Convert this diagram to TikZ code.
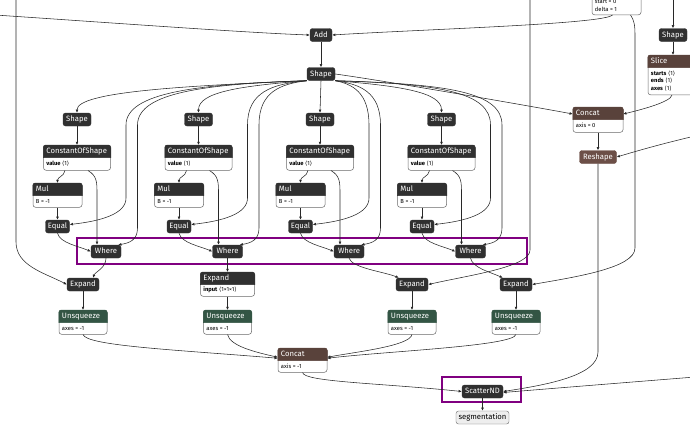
\documentclass[tikz,border=0pt]{standalone}
\usepackage{fontspec}
\setmainfont{Fira Sans}
\newfontfamily\dvs{DejaVu Sans}
\usetikzlibrary{arrows.meta}
\definecolor{nodedark}{RGB}{48,48,48}
\definecolor{brownA}{RGB}{89,66,59}
\definecolor{brownB}{RGB}{108,79,71}
\definecolor{greenU}{RGB}{51,85,68}
\definecolor{edgec}{RGB}{40,40,40}
\definecolor{boxline}{RGB}{105,105,105}
\definecolor{purp}{RGB}{128,0,128}
\definecolor{segfill}{RGB}{238,238,238}
\newcommand\shp[1]{{\dvs ⟨}#1{\dvs ⟩}}
\tikzset{
  op/.style={fill=nodedark, draw=nodedark, line width=0.4pt, rounded corners=2.5pt, text=white,
    font=\fontsize{7.7}{8}\selectfont, minimum height=13pt, inner xsep=2pt, inner ysep=0pt,
    text height=5.7pt, text depth=1.5pt},
  htext/.style={text=white, font=\fontsize{7.7}{8}\selectfont, inner sep=0pt, text height=5.7pt, text depth=1.5pt},
  btext/.style={text=black, font=\fontsize{5.8}{8}\selectfont, inner sep=0pt, align=left},
  conn/.style={draw=edgec, line width=0.55pt, -{Latex[length=3.2pt,width=2.8pt]}},
  hilite/.style={draw=purp, line width=1.4pt},
}
% #1 name, #2 cx, #3 top, #4 width, #5 body height, #6 header colour, #7 title, #8 body
\newcommand\abox[8]{%
  \node[draw=boxline, line width=0.5pt, fill=white, rounded corners=2.5pt, inner sep=0pt,
    minimum width=#4pt, minimum height={12.5pt+#5pt}, anchor=north] (#1) at (#2,#3) {};
  \filldraw[fill=#6, draw=#6, line width=0.5pt] ([yshift=-12.5pt]#1.north west) [rounded corners=2.5pt]
    -- (#1.north west) -- (#1.north east) [sharp corners] -- ([yshift=-12.5pt]#1.north east) -- cycle;
  \node[htext, anchor=west] at ([xshift=3pt,yshift=-6.6pt]#1.north west) {#7};
  \node[btext, anchor=west] at ([xshift=3pt,yshift={-12.5pt-#5pt/2}]#1.north west) {#8};
}
\begin{document}
\begin{tikzpicture}[x=1pt,y=-1pt]
\useasboundingbox (0,0) rectangle (690,429);
\clip (0,0) rectangle (690,429);

% ---------- top ----------
\node[op, minimum width=22pt] (add) at (321,35) {Add};
\node[op, minimum width=28pt] (ms) at (321,74) {Shape};
\node[draw=boxline, line width=0.5pt, fill=white, rounded corners=2.5pt, inner sep=0pt,
  minimum width=49pt, minimum height=60pt, anchor=south] (range) at (616.5,15) {};
\node[btext, anchor=west] (rs) at ([xshift=3pt,yshift=13pt]range.south west) {start = 0};
\node[btext, anchor=west] (rd) at ([xshift=3pt,yshift=5.5pt]range.south west) {delta = 1};

\coordinate (inL) at (-5,15);
\coordinate (topA) at (16,-5);
\coordinate (topB) at (530,-5);
\coordinate (topC) at (673,-5);
\coordinate (inR1) at (695,136);
\coordinate (inR2) at (695,377);

% ---------- right side ----------
\node[op, minimum width=28pt] (rshape) at (673,35) {Shape};
\abox{slice}{675}{55}{54}{27}{brownA}{Slice}{\textbf{starts} \shp{1}\\[-0.5pt]\textbf{ends} \shp{1}\\[-0.5pt]\textbf{axes} \shp{1}}
\abox{concatR}{598}{107}{50}{12.5}{brownA}{Concat}{axis = 0}
\node[op, fill=brownB, draw=brownB, minimum width=37pt] (reshape) at (598,157) {Reshape};

% ---------- columns ----------
\foreach \k in {1,2,3,4} {
  \pgfmathsetmacro\dx{(\k-1)*121.5}
  \node[op, minimum width=28pt] (shp\k) at (77+\dx,119.5) {Shape};
  \abox{cos\k}{77+\dx}{145}{67}{12.5}{nodedark}{ConstantOfShape}{\textbf{value} \shp{1}}
  \abox{mul\k}{57.5+\dx}{183}{49}{11.5}{nodedark}{Mul}{B = -1}
  \node[op, minimum width=24pt] (eq\k) at (57.5+\dx,226.5) {Equal};
  \node[op, minimum width=30pt] (where\k) at (106+\dx,251.5) {Where};
}

\node[op, minimum width=32pt] (exp1) at (83,284.5) {Expand};
\abox{exp2}{227.5}{272}{54}{11.5}{nodedark}{Expand}{\textbf{input} \shp{1×1×1}}
\node[op, minimum width=32pt] (exp3) at (412,284.5) {Expand};
\node[op, minimum width=32pt] (exp4) at (516,284.5) {Expand};

\abox{unsq1}{83}{310}{48}{11.5}{greenU}{Unsqueeze}{axes = -1}
\abox{unsq2}{227.5}{310}{48}{11.5}{greenU}{Unsqueeze}{axes = -1}
\abox{unsq3}{412}{310}{48}{11.5}{greenU}{Unsqueeze}{axes = -1}
\abox{unsq4}{516}{310}{48}{11.5}{greenU}{Unsqueeze}{axes = -1}

\abox{concat}{302.5}{348}{49}{11.5}{brownA}{Concat}{axis = -1}
\node[op, minimum width=41pt] (scatter) at (482.5,391.5) {ScatterND};
\node[op, fill=segfill, draw=boxline, text=black, minimum width=53pt] (seg) at (482.5,417.5) {segmentation};

% ---------- highlight boxes ----------
\draw[hilite] (77,238) rectangle (527,264);
\draw[hilite] (442,377) rectangle (521,402);

% ---------- edges: top ----------
\draw[conn] (inL) .. controls (100,22) and (250,33) .. (add.west);
\draw[conn] ([xshift=-4pt]range.south) .. controls (604,24) and (430,29) .. (add.east);
\draw[conn] (add) -- (ms);
\draw[conn] (topA) -- (16,242) .. controls (16,266) and (45,273) .. (exp1.west);
\draw[conn] (topB) -- (530,250) .. controls (530,267) and (470,275) .. (exp3.east);
\draw[conn] ([xshift=14pt]range.south) .. controls (634,20) and (635,25) .. (635,35) -- (635,248)
  .. controls (635,268) and (575,277) .. (exp4.east);

% ---------- edges: right ----------
\draw[conn] (topC) -- (rshape.north);
\draw[conn] (rshape.south) -- (rshape.south |- slice.north);
\draw[conn] ([xshift=-3pt]slice.south) .. controls (671,102) and (640,110) .. ([yshift=-7pt]concatR.north east);
\draw[conn] (ms.east) .. controls (380,80) and (530,106) .. ([yshift=-7pt]concatR.north west);
\draw[conn] (concatR) -- (reshape);
\draw[conn] (inR1) .. controls (665,143) and (640,150) .. (reshape.east);
\draw[conn] (reshape.south) -- (598,352) .. controls (598,376) and (545,385) .. (scatter.east);
\draw[conn] (inR2) .. controls (620,383) and (545,389) .. ([yshift=-1pt]scatter.east);

% ---------- edges: main Shape to columns ----------
\draw[conn] (ms.south west) .. controls (180,86) and (77,92) .. (shp1.north);
\draw[conn] (ms.south west) .. controls (240,86) and (198.5,92) .. (shp2.north);
\draw[conn] (ms.south) -- (shp3.north);
\draw[conn] (ms.south east) .. controls (400,86) and (441.5,92) .. (shp4.north);

\foreach \k/\st/\cx in {1/south west/200, 2/south west/272, 3/south east/352, 4/south east/440} {
  \pgfmathsetmacro\dx{(\k-1)*121.5}
  \pgfmathsetmacro\xa{126+\dx}
  \pgfmathsetmacro\xb{137.5+\dx}
  \draw[conn] (ms.\st) .. controls (\cx,84) and (\xa,92) .. (\xa,125) -- (\xa,198)
    .. controls (\xa,214) and (\xa-25,221) .. ([yshift=2pt]eq\k.east);
  \draw[conn] (ms.\st) .. controls (\cx+8,84) and (\xb,92) .. (\xb,125) -- (\xb,228)
    .. controls (\xb,240) and (\xb-8,243) .. ([xshift=-3pt]where\k.north east);
  \draw[conn] (shp\k) -- (cos\k);
  \draw[conn] ([xshift=-12pt]cos\k.south) .. controls +(-1,6) and +(0,-6) .. (mul\k.north);
  \draw[conn] ([xshift=11pt]cos\k.south) .. controls (97+\dx,176) and (97+\dx,182) .. (97+\dx,194)
    -- ([xshift=-9pt]where\k.north);
  \draw[conn] (mul\k) -- (eq\k);
  \draw[conn] (eq\k.south) .. controls (60+\dx,243) and (78+\dx,246) .. (where\k.west);
}

% ---------- edges: lower ----------
\draw[conn] (where1.south) .. controls (106,268) and (95,272) .. ([xshift=10pt]exp1.north);
\draw[conn] (where2) -- (exp2);
\draw[conn] (where3.south) .. controls (352,268) and (385,272) .. ([xshift=3pt]exp3.north west);
\draw[conn] (where4.south) .. controls (473,268) and (490,272) .. ([xshift=3pt]exp4.north west);

\draw[conn] (exp1) -- (unsq1);
\draw[conn] (exp2) -- (unsq2);
\draw[conn] (exp3) -- (unsq3);
\draw[conn] (exp4) -- (unsq4);

\draw[conn] (unsq1.south) .. controls (86,346) and (180,350) .. ([yshift=2pt]concat.west);
\draw[conn] (unsq2.south) .. controls (230,346) and (255,352) .. ([yshift=3pt]concat.west);
\draw[conn] (unsq3.south) .. controls (410,346) and (355,352) .. ([yshift=3pt]concat.east);
\draw[conn] (unsq4.south) .. controls (513,346) and (390,351) .. ([yshift=2pt]concat.east);

\draw[conn] (concat.south) .. controls (304,382) and (380,383) .. (scatter.west);
\draw[conn] (scatter) -- (seg);
\end{tikzpicture}
\end{document}
